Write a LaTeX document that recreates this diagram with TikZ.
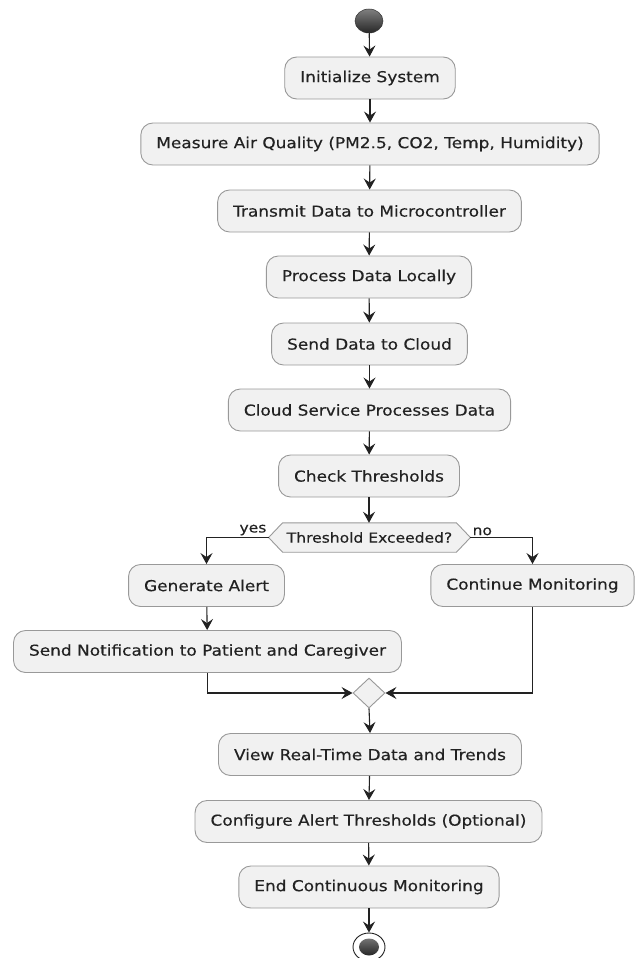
\documentclass[tikz,border=0pt]{standalone}
\usepackage{fontspec}
\setmainfont{DejaVu Sans}[FakeStretch=1.13,FakeBold=0.35]
\usetikzlibrary{arrows.meta,calc,backgrounds,shapes.geometric}
\definecolor{boxfill}{HTML}{F1F1F1}
\definecolor{boxline}{HTML}{999999}
\definecolor{conn}{HTML}{222222}
\definecolor{txt}{HTML}{222222}
\tikzset{
  act/.style={draw=boxline, fill=boxfill, rounded corners=12pt, line width=0.9pt,
    minimum height=42pt, inner xsep=15.5pt, inner ysep=0pt, text=txt,
    font=\fontsize{15}{18}\selectfont},
  dectext/.style={draw=none, minimum height=29pt, inner xsep=4pt, inner ysep=0pt,
    text=txt, font=\fontsize{13.75}{16}\selectfont},
  hexshape/.style={draw=boxline, fill=boxfill, line width=0.9pt},
  lbl/.style={inner sep=1pt, text=txt, font=\fontsize{13.75}{16}\selectfont},
  flow/.style={draw=conn, line width=1.1pt, -{Stealth[length=11pt,width=12pt,inset=4pt]}},
  mergebox/.style={draw=boxline, fill=boxfill, line width=0.9pt, shape=diamond,
    minimum width=32pt, minimum height=30pt, inner sep=0pt},
}
\begin{document}
\begin{tikzpicture}[x=1pt,y=-1pt]
\useasboundingbox (0,0) rectangle (637,958);

\node[ellipse, minimum width=28pt, minimum height=24pt, inner sep=0pt,
      top color=black!50, bottom color=black!85, draw=black!80, line width=0.5pt] (start) at (369,21) {};

\node[act] (init)     at (370,78)    {Initialize System};
\node[act] (measure)  at (370,144)   {Measure Air Quality (PM2.5, CO2, Temp, Humidity)};
\node[act] (transmit) at (369.5,211) {Transmit Data to Microcontroller};
\node[act] (process)  at (369,277)   {Process Data Locally};
\node[act] (send)     at (369.5,344) {Send Data to Cloud};
\node[act] (cloud)    at (369.5,410) {Cloud Service Processes Data};
\node[act] (check)    at (369,476)   {Check Thresholds};

\node[dectext] (dec) at (369.5,537.5) {Threshold Exceeded?};
\coordinate (decL) at ($(dec.west)+(-14,0)$);
\coordinate (decR) at ($(dec.east)+(14,0)$);
\begin{scope}[on background layer]
\draw[hexshape] (decL) -- (dec.north west) -- (dec.north east) -- (decR)
  -- (dec.south east) -- (dec.south west) -- cycle;
\end{scope}
\node[lbl, anchor=south east] (yes) at ($(decL)+(-1,-1)$) {yes};
\node[lbl, anchor=south west] (no)  at ($(decR)+(1,-1)$)  {no};

\node[act] (gen)   at (206.5,585.5) {Generate Alert};
\node[act] (cont)  at (532.5,585.5) {Continue Monitoring};
\node[act] (notif) at (207.5,651.5) {Send Notification to Patient and Caregiver};

\node[mergebox] (merge) at (369,693) {};

\node[act] (view)   at (370,754.5)   {View Real-Time Data and Trends};
\node[act] (config) at (368.5,821.5) {Configure Alert Thresholds (Optional)};
\node[act] (endc)   at (369,887)     {End Continuous Monitoring};

\node[ellipse, minimum width=32pt, minimum height=28pt, inner sep=0pt,
      draw=conn, line width=0.9pt, fill=white] (stop) at (369,947) {};
\node[ellipse, minimum width=20pt, minimum height=17pt, inner sep=0pt,
      top color=black!55, bottom color=black!85] (stopin) at (stop.center) {};

\draw[flow] (start) -- (init);
\draw[flow] (init) -- (measure);
\draw[flow] (measure) -- (transmit);
\draw[flow] (transmit) -- (process);
\draw[flow] (process) -- (send);
\draw[flow] (send) -- (cloud);
\draw[flow] (cloud) -- (check);
\draw[flow] (check.south) -- (check.south |- dec.north);
\draw[flow] (decL) -| (gen.north);
\draw[flow] (decR) -| (cont.north);
\draw[flow] (gen) -- (notif);
\draw[flow] (notif.south) |- (merge.west);
\draw[flow] (cont.south) |- (merge.east);
\draw[flow] (merge.south) -- (view.north);
\draw[flow] (view) -- (config);
\draw[flow] (config) -- (endc);
\draw[flow] (endc) -- (stop);
\end{tikzpicture}
\end{document}
